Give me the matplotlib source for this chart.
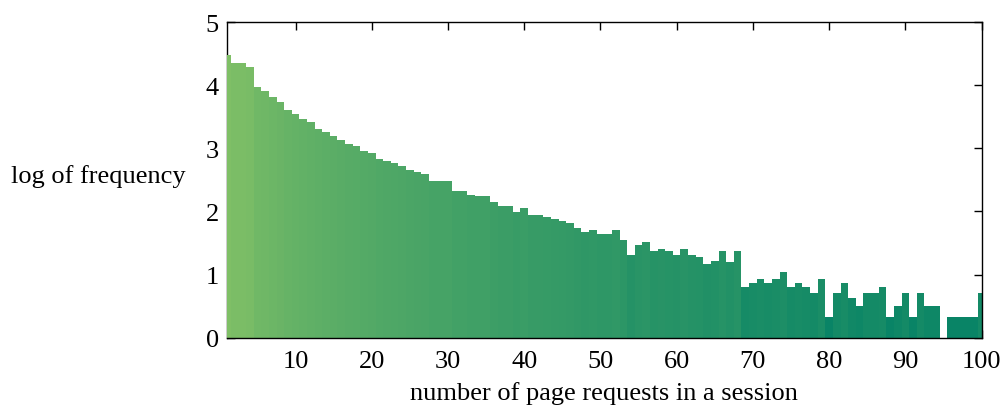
import numpy as np
import matplotlib
matplotlib.use("Agg")
import matplotlib.pyplot as plt
from matplotlib import colors as mcolors

# number of page requests in a session (1..100)
requests = list(range(1, 101))
# log of frequency
log_freq = [
    4.48, 4.35, 4.35, 4.28, 3.97, 3.91, 3.82, 3.74, 3.61, 3.55,
    3.47, 3.41, 3.31, 3.26, 3.20, 3.13, 3.07, 3.04, 2.96, 2.93,
    2.83, 2.80, 2.77, 2.72, 2.66, 2.63, 2.60, 2.48, 2.48, 2.48,
    2.33, 2.33, 2.26, 2.25, 2.25, 2.15, 2.09, 2.09, 1.99, 2.06,
    1.95, 1.95, 1.92, 1.88, 1.85, 1.82, 1.74, 1.68, 1.71, 1.65,
    1.65, 1.71, 1.55, 1.31, 1.47, 1.52, 1.37, 1.41, 1.37, 1.31,
    1.41, 1.31, 1.28, 1.17, 1.21, 1.37, 1.20, 1.37, 0.80, 0.87,
    0.93, 0.87, 0.93, 1.04, 0.80, 0.87, 0.80, 0.71, 0.93, 0.33,
    0.71, 0.87, 0.63, 0.50, 0.71, 0.71, 0.80, 0.33, 0.50, 0.71,
    0.33, 0.71, 0.50, 0.50, 0.00, 0.33, 0.33, 0.33, 0.33, 0.71,
]
x_ticks = [10, 20, 30, 40, 50, 60, 70, 80, 90, 100]
y_ticks = [0, 1, 2, 3, 4, 5]

plt.rcParams['font.family'] = ['Liberation Serif', 'DejaVu Serif']
FS = 19

fig = plt.figure(figsize=(10.03, 4.06), dpi=100)
ax = fig.add_axes([0.2263, 0.1655, 0.9786 - 0.2263, 0.9433 - 0.1655])

cmap = plt.get_cmap('summer')
norm = mcolors.Normalize(vmin=0, vmax=9.0)
bar_colors = [cmap(norm(v)) for v in log_freq]
ax.bar(requests, log_freq, width=1.0, color=bar_colors, linewidth=0, zorder=1)

ax.set_axisbelow(True)
ax.set_xlim(1, 100)
ax.set_ylim(0, 5)
ax.set_xticks(x_ticks)
ax.set_yticks(y_ticks)
ax.tick_params(direction='in', top=True, right=True, length=6, width=1,
               labelsize=FS, color='black')
ax.tick_params(axis='x', pad=8.5)
ax.tick_params(axis='y', pad=6)
for sp in ax.spines.values():
    sp.set_linewidth(1.0)
ax.spines['left'].set_zorder(0.5)

ax.set_xlabel('number of page requests in a session', fontsize=FS, labelpad=6.5)
ax.set_ylabel('log of frequency', fontsize=FS, rotation=0, ha='center', va='center')
ax.yaxis.set_label_coords((98 - 227) / (981.5 - 227), (338.8 - 176) / (338.8 - 23))

fig.savefig('out.png', dpi=100)
